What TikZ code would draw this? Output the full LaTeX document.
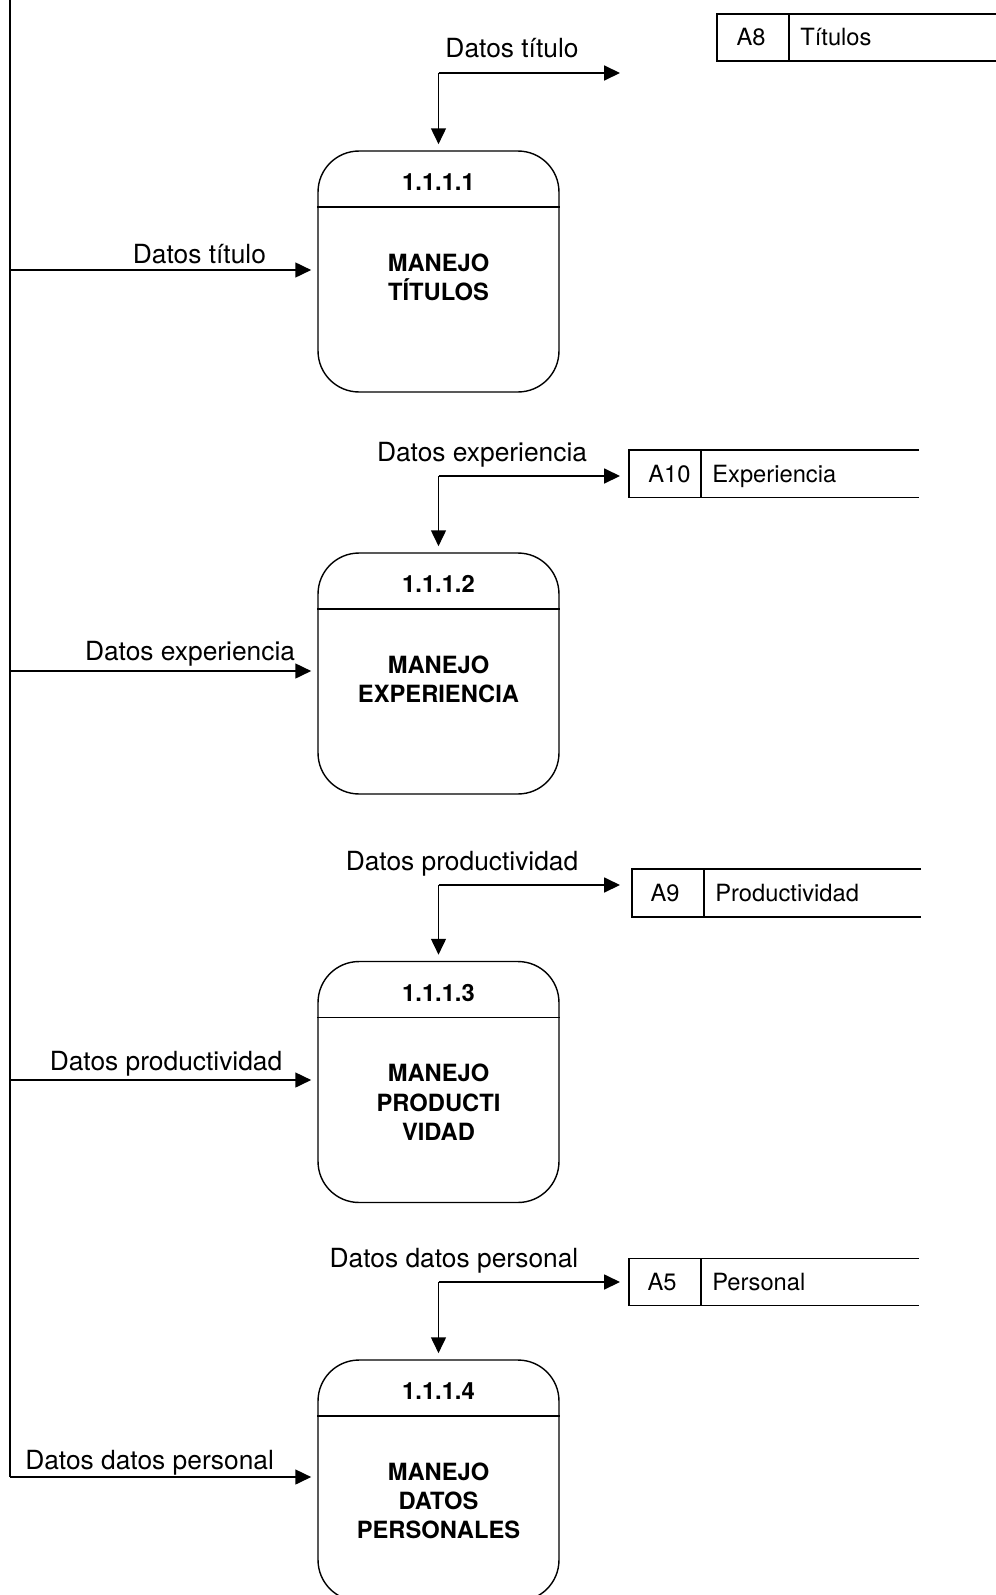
\documentclass[tikz,border=0pt]{standalone}
\usepackage{fontspec}
\setmainfont{TeX Gyre Heros}
\usetikzlibrary{arrows.meta}
\tikzset{
  proc/.style={draw, line width=0.8pt, rounded corners=0.82cm,
    minimum width=4.82cm, minimum height=4.82cm, inner sep=0pt},
  flow/.style={line width=0.8pt, -{Triangle[length=9pt,width=8.5pt]}},
  store/.style={line width=0.8pt},
  lbl/.style={font=\fontsize{15}{18}\selectfont, inner sep=0pt, anchor=base},
  sid/.style={font=\fontsize{13.5}{16}\selectfont, inner sep=0pt, anchor=base},
  sname/.style={font=\fontsize{13.5}{16}\selectfont, inner sep=0pt, anchor=base west},
  num/.style={font=\bfseries\fontsize{13.5}{16}\selectfont, inner sep=0pt},
  body/.style={font=\bfseries\fontsize{13.5}{16.7}\selectfont, align=center,
    inner sep=0pt, anchor=north}
}
\begin{document}
\begin{tikzpicture}[x=0.02cm, y=-0.02cm]
  \useasboundingbox (0,0) rectangle (996,1595);
  % processes
  \node[proc] (p1) at (438.5,271.5) {};
  \node[proc] (p2) at (438.5,673.5) {};
  \node[proc] (p3) at (438.5,1082) {};
  \node[proc] (p4) at (438.5,1480.5) {};
  \foreach \p in {p1,p2,p3,p4}
    \draw[store] ([yshift=-1.13cm]\p.north west) -- ([yshift=-1.13cm]\p.north east);
  \node[num] (n1) at ([yshift=-0.64cm]p1.north) {1.1.1.1};
  \node[num] (n2) at ([yshift=-0.64cm]p2.north) {1.1.1.2};
  \node[num] (n3) at ([yshift=-0.64cm]p3.north) {1.1.1.3};
  \node[num] (n4) at ([yshift=-0.64cm]p4.north) {1.1.1.4};
  \node[body] (m1) at ([yshift=-1.99cm]p1.north) {\rule{0pt}{12pt}MANEJO\\TÍTULOS};
  \node[body] (m2) at ([yshift=-1.99cm]p2.north) {\rule{0pt}{12pt}MANEJO\\EXPERIENCIA};
  \node[body] (m3) at ([yshift=-1.99cm]p3.north) {\rule{0pt}{12pt}MANEJO\\PRODUCTI\\VIDAD};
  \node[body] (m4) at ([yshift=-1.99cm]p4.north) {\rule{0pt}{12pt}MANEJO\\DATOS\\PERSONALES};

  % data stores
  \draw[store] (996,14) -- (717,14) -- (717,61) -- (996,61) (789,14) -- (789,61);
  \node[sid] (s1) at (751,46) {A8};
  \node[sname] (d1) at (800,46) {Títulos};
  \draw[store] (919,450) -- (629,450) -- (629,497.5) -- (919,497.5) (701,450) -- (701,497.5);
  \node[sid] (s2) at (669.5,482.5) {A10};
  \node[sname] (d2) at (712,482.5) {Experiencia};
  \draw[store] (921,869) -- (632,869) -- (632,917) -- (921,917) (704,869) -- (704,917);
  \node[sid] (s3) at (665,901.5) {A9};
  \node[sname] (d3) at (715,901.5) {Productividad};
  \draw[store] (919,1258.5) -- (629,1258.5) -- (629,1305.5) -- (919,1305.5) (701,1258.5) -- (701,1305.5);
  \node[sid] (s4) at (662,1290.5) {A5};
  \node[sname] (d4) at (712,1290.5) {Personal};

  % junctions and ends
  \coordinate (j1) at (438.5,73);
  \coordinate (j2) at (438.5,476);
  \coordinate (j3) at (438.5,885);
  \coordinate (j4) at (438.5,1282);
  \coordinate (t1) at (620,73);
  \coordinate (t2) at (620,476);
  \coordinate (t3) at (620,885);
  \coordinate (t4) at (620,1282);
  \coordinate (top) at (10,0);
  \coordinate (l1) at (10,270);
  \coordinate (l2) at (10,671);
  \coordinate (l3) at (10,1080);
  \coordinate (l4) at (10,1477);

  % flows
  \begin{scope}[flow]
    \draw (j1) -- (t1);
    \draw (j2) -- (t2);
    \draw (j3) -- (t3);
    \draw (j4) -- (t4);
  \end{scope}
  \begin{scope}[flow, shorten >=3.5pt]
    \draw (j1) -- (p1.north);
    \draw (j2) -- (p2.north);
    \draw (j3) -- (p3.north);
    \draw (j4) -- (p4.north);
    \draw (l1) -- (l1 -| p1.west);
    \draw (l2) -- (l2 -| p2.west);
    \draw (l3) -- (l3 -| p3.west);
    \draw (l4) -- (l4 -| p4.west);
  \end{scope}
  \draw[store] (top) -- (l4);

  % labels
  \node[lbl] (f1) at (512,58) {Datos título};
  \node[lbl] (f2) at (482,461) {Datos experiencia};
  \node[lbl] (f3) at (462,870) {Datos productividad};
  \node[lbl] (f4) at (454,1267) {Datos datos personal};
  \node[lbl] (g1) at (199.4,263) {Datos título};
  \node[lbl] (g2) at (190,660) {Datos experiencia};
  \node[lbl] (g3) at (166,1070) {Datos productividad};
  \node[lbl] (g4) at (149.6,1469) {Datos datos personal};
\end{tikzpicture}
\end{document}
